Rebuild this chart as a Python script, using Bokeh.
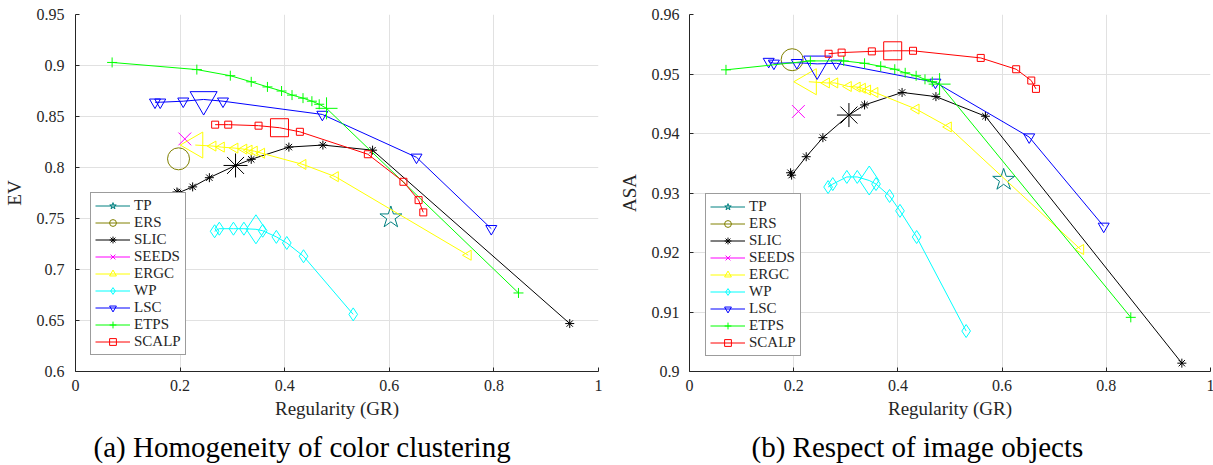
import math
from bokeh.plotting import figure
from bokeh.layouts import row
from bokeh.models import Legend, LegendItem, FixedTicker, CustomJSTickFormatter, Title
from bokeh.embed import file_html
from bokeh.resources import INLINE

# ---------------- data ----------------
gr_ticks = [0, 0.2, 0.4, 0.6, 0.8, 1.0]
ev_ticks = [0.6, 0.65, 0.7, 0.75, 0.8, 0.85, 0.9, 0.95]
asa_ticks = [0.90, 0.91, 0.92, 0.93, 0.94, 0.95, 0.96]

methods = ["TP", "ERS", "SLIC", "SEEDS", "ERGC", "WP", "LSC", "ETPS", "SCALP"]

tp_gr = [0.603]
tp_ev = [0.751]
tp_asa = [0.9322]

ers_gr = [0.197]
ers_ev = [0.8085]
ers_asa = [0.9524]

slic_gr = [0.194, 0.196, 0.224, 0.256, 0.306, 0.336, 0.408, 0.473, 0.568, 0.945]
slic_ev = [0.776, 0.775, 0.781, 0.790, 0.802, 0.808, 0.820, 0.822, 0.817, 0.647]
slic_asa = [0.9334, 0.9330, 0.9361, 0.9393, 0.9431, 0.9448, 0.9469, 0.9462, 0.9429, 0.9014]

seeds_gr = [0.209]
seeds_ev = [0.828]
seeds_asa = [0.9437]

ergc_gr = [0.229, 0.263, 0.279, 0.305, 0.322, 0.332, 0.342, 0.356, 0.435, 0.497, 0.751]
ergc_ev = [0.822, 0.821, 0.820, 0.819, 0.818, 0.817, 0.816, 0.814, 0.803, 0.791, 0.714]
ergc_asa = [0.9487, 0.9485, 0.9485, 0.9479, 0.9478, 0.9476, 0.9473, 0.9469, 0.9441, 0.9411, 0.9205]

wp_gr = [0.266, 0.275, 0.302, 0.322, 0.345, 0.358, 0.384, 0.404, 0.436, 0.531]
wp_ev = [0.7375, 0.740, 0.740, 0.740, 0.7394, 0.738, 0.732, 0.726, 0.713, 0.656]
wp_asa = [0.9310, 0.9315, 0.9327, 0.9327, 0.9321, 0.9315, 0.9295, 0.9270, 0.9226, 0.9068]

lsc_gr = [0.152, 0.162, 0.206, 0.245, 0.282, 0.472, 0.652, 0.795]
lsc_ev = [0.864, 0.864, 0.865, 0.8667, 0.865, 0.852, 0.810, 0.740]
lsc_asa = [0.9521, 0.9518, 0.9519, 0.9517, 0.9518, 0.9486, 0.9394, 0.9244]

etps_gr = [0.070, 0.232, 0.296, 0.336, 0.367, 0.394, 0.414, 0.435, 0.452, 0.466, 0.480, 0.847]
etps_ev = [0.903, 0.896, 0.890, 0.884, 0.879, 0.875, 0.871, 0.868, 0.865, 0.862, 0.858, 0.677]
etps_asa = [0.9507, 0.9522, 0.9522, 0.9518, 0.9513, 0.9508, 0.9502, 0.9497, 0.9491, 0.9487, 0.9483, 0.9091]

scalp_gr = [0.267, 0.292, 0.350, 0.390, 0.429, 0.559, 0.627, 0.656, 0.665]
scalp_ev = [0.842, 0.842, 0.841, 0.839, 0.835, 0.813, 0.786, 0.768, 0.756]
scalp_asa = [0.9534, 0.9536, 0.9538, 0.9539, 0.9539, 0.9527, 0.9508, 0.9489, 0.9475]

# index of the highlighted (default setting) point of each method
default_index = {"TP": 0, "ERS": 0, "SLIC": 4, "SEEDS": 0, "ERGC": 0,
                 "WP": 4, "LSC": 3, "ETPS": 10, "SCALP": 3}

DATA = {
    "TP": (tp_gr, tp_ev, tp_asa),
    "ERS": (ers_gr, ers_ev, ers_asa),
    "SLIC": (slic_gr, slic_ev, slic_asa),
    "SEEDS": (seeds_gr, seeds_ev, seeds_asa),
    "ERGC": (ergc_gr, ergc_ev, ergc_asa),
    "WP": (wp_gr, wp_ev, wp_asa),
    "LSC": (lsc_gr, lsc_ev, lsc_asa),
    "ETPS": (etps_gr, etps_ev, etps_asa),
    "SCALP": (scalp_gr, scalp_ev, scalp_asa),
}

# ---------------- styles ----------------
STY = {
    "TP": dict(color="#008080", marker="star", size=10, big=23, angle=0.0),
    "ERS": dict(color="#808000", marker="circle", size=8, big=22, angle=0.0),
    "SLIC": dict(color="#000000", marker="asterisk", size=9, big=24, angle=0.0),
    "SEEDS": dict(color="#ff00ff", marker="x", size=9, big=18, angle=0.0),
    "ERGC": dict(color="#ffff00", marker="triangle", size=10, big=26, angle=math.pi / 2),
    "WP": dict(color="#00ffff", marker="diamond", size=13, big=29, angle=0.0),
    "LSC": dict(color="#0000ff", marker="inverted_triangle", size=11, big=27, angle=0.0),
    "ETPS": dict(color="#00ff00", marker="cross", size=10, big=22, angle=0.0),
    "SCALP": dict(color="#ff0000", marker="square", size=7, big=18, angle=0.0),
}

FONT = "Liberation Serif"
TXT = "#262626"
fmt_code = "return tick.toFixed(2).replace(/0+$/, '').replace(/\\.$/, '');"


def panel(which, ylabel, yticks, yr, caption, fw, bl, br, ystand, cap_x, leg_loc):
    p = figure(frame_width=fw, frame_height=357,
               x_range=(0, 1), y_range=yr,
               output_backend="svg", toolbar_location=None,
               min_border_left=bl, min_border_right=br,
               min_border_top=14, min_border_bottom=94)
    p.outline_line_color = None
    p.background_fill_color = "white"
    p.border_fill_color = "white"

    for ax, ticks in ((p.xaxis[0], gr_ticks), (p.yaxis[0], yticks)):
        ax.ticker = FixedTicker(ticks=ticks)
        ax.formatter = CustomJSTickFormatter(code=fmt_code)
        ax.axis_line_color = TXT
        ax.major_tick_line_color = TXT
        ax.major_tick_in = 4
        ax.major_tick_out = 0
        ax.minor_tick_line_color = None
        ax.major_label_text_font = FONT
        ax.major_label_text_font_size = "16px"
        ax.major_label_text_color = TXT
        ax.axis_label_text_font = FONT
        ax.axis_label_text_font_size = "19px"
        ax.axis_label_text_font_style = "normal"
        ax.axis_label_text_color = TXT
    p.xaxis.axis_label = "Regularity (GR)"
    p.yaxis.axis_label = ylabel
    p.xaxis.major_label_standoff = 8
    p.xaxis.axis_label_standoff = 4
    p.yaxis.major_label_standoff = ystand
    p.yaxis.axis_label_standoff = 9
    p.xgrid.ticker = FixedTicker(ticks=gr_ticks)
    p.ygrid.ticker = FixedTicker(ticks=yticks)
    p.grid.grid_line_color = "#e1e1e1"
    p.grid.grid_line_width = 1

    items = []
    for m in methods:
        gr, ev, asa = DATA[m]
        ys = ev if which == "ev" else asa
        s = STY[m]
        k = default_index[m]
        ln = p.line(gr, ys, line_color=s["color"], line_width=1)
        small_x = [x for i, x in enumerate(gr) if i != k]
        small_y = [y for i, y in enumerate(ys) if i != k]
        if not small_x:
            small_x, small_y = [float("nan")], [float("nan")]
        sm = p.scatter(small_x, small_y, marker=s["marker"], size=s["size"],
                       angle=s["angle"], line_color=s["color"], fill_color=None,
                       line_width=1)
        p.scatter([gr[k]], [ys[k]], marker=s["marker"], size=s["big"],
                  angle=s["angle"], line_color=s["color"], fill_color=None,
                  line_width=1)
        items.append(LegendItem(label=m, renderers=[ln, sm]))

    leg = Legend(items=items, location=leg_loc)
    leg.label_text_font = FONT
    leg.label_text_font_size = "15px"
    leg.label_text_color = TXT
    leg.glyph_width = 35
    leg.glyph_height = 17
    leg.label_height = 17
    leg.spacing = 0
    leg.padding = 4
    leg.margin = 0
    leg.label_standoff = 4
    leg.border_line_color = "#3a3a3a"
    leg.border_line_width = 1
    leg.background_fill_color = "white"
    leg.background_fill_alpha = 1.0
    p.add_layout(leg)

    # thin spacer between the axis label and the caption
    gap = Title(text=" ", text_font_size="1px", standoff=3)
    p.add_layout(gap, "below")
    cap = Title(text=caption, align="left", offset=cap_x,
                text_font=FONT, text_font_size="29px", text_font_style="normal",
                text_color="black", standoff=2, vertical_align="bottom")
    p.add_layout(cap, "below")
    return p


p1 = panel("ev", "EV", ev_ticks, (0.6, 0.95),
           "(a) Homogeneity of color clustering", 523, 74, 17, 11, 18, (15, 16))
p2 = panel("asa", "ASA", asa_ticks, (0.9, 0.96),
           "(b) Respect of image objects", 521, 71, 4, 10, 62, (16, 15))

layout = row(p1, p2)
open("out.html", "w").write(file_html(layout, INLINE))
